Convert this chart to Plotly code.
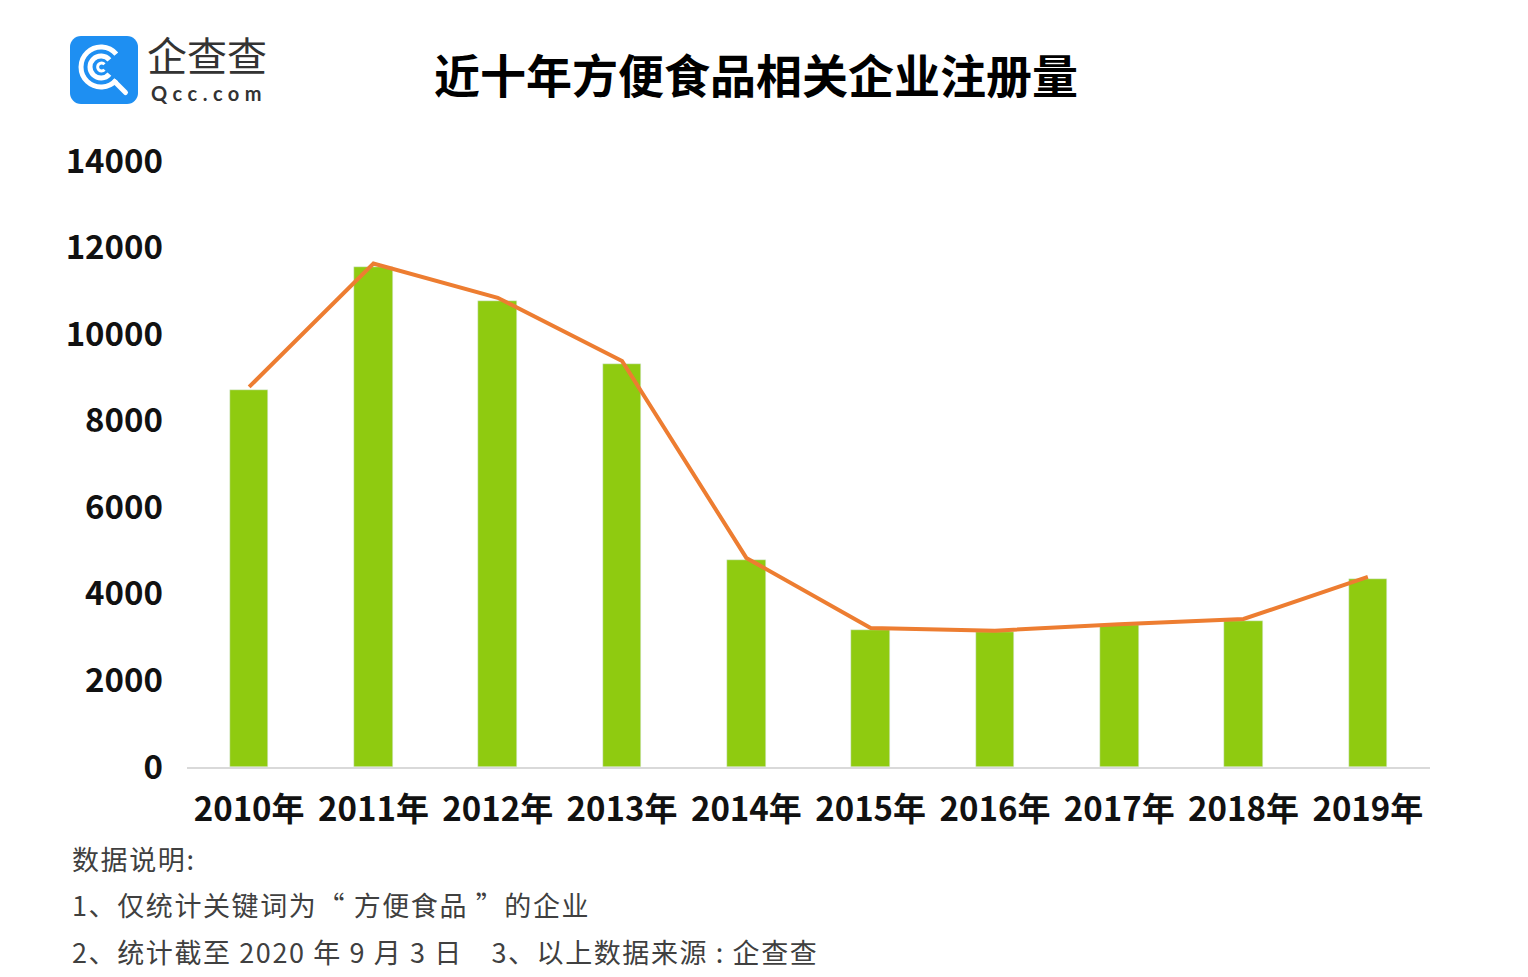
import base64
import plotly.graph_objects as go

# ---- data ----
years = ["2010年", "2011年", "2012年", "2013年", "2014年",
         "2015年", "2016年", "2017年", "2018年", "2019年"]
bar_values = [8710, 11560, 10770, 9310, 4780, 3170, 3120, 3280, 3380, 4340]
line_values = [8780, 11630, 10840, 9380, 4830, 3210, 3150, 3300, 3420, 4390]
y_ticks = [0, 2000, 4000, 6000, 8000, 10000, 12000, 14000]

title_text = "近十年方便食品相关企业注册量"
notes = ["数据说明:",
         "1、仅统计关键词为“ 方便食品 ”的企业",
         "2、统计截至 2020 年 9 月 3 日\u30003、以上数据来源 : 企查查"]

W, H = 1528, 977
FONT = "Noto Sans CJK SC"


def px(x):
    return x / W


def py(y):
    return 1 - y / H


fig = go.Figure()
fig.add_trace(go.Bar(x=years, y=bar_values, marker=dict(color="#8FCB10"),
                     width=0.31, showlegend=False, hoverinfo="x+y"))
fig.add_trace(go.Scatter(x=years, y=line_values, mode="lines",
                         line=dict(color="#ED7D31", width=4),
                         showlegend=False))

fig.update_layout(
    width=W, height=H,
    margin=dict(l=0, r=0, t=0, b=0),
    paper_bgcolor="white", plot_bgcolor="white",
    font=dict(family=FONT, color="#000000"),
    xaxis=dict(domain=[px(187), px(1430)], range=[-0.5, 9.5],
               showgrid=False, showline=True, linecolor="#D9D9D9", linewidth=1.5,
               ticks="", tickfont=dict(family=FONT, size=33, color="#111111", weight="bold"),
               ticklabelstandoff=13, automargin=False, fixedrange=True),
    yaxis=dict(domain=[py(767), py(161)], range=[0, 14000],
               tickvals=y_ticks, tickformat="d",
               showgrid=False, zeroline=False, showline=False, ticks="",
               tickfont=dict(family=FONT, size=33, color="#111111", weight="bold"),
               ticklabelstandoff=23, automargin=False, fixedrange=True),
    bargap=0.0,
)

# title
fig.add_annotation(text=title_text, x=px(756), y=py(73), xref="paper", yref="paper",
                   xanchor="center", yanchor="middle", showarrow=False,
                   font=dict(family=FONT, size=46, color="#000000", weight="bold"))

# footnotes
for i, t in enumerate(notes):
    fig.add_annotation(text='<span style="letter-spacing:1.6px">' + t + '</span>',
                       x=px(70), y=py(858 + i * 46.5), xref="paper", yref="paper",
                       xanchor="left", yanchor="middle", showarrow=False,
                       font=dict(family=FONT, size=27, color="#404040"))

# logo icon as inline svg
svg = (
    '<svg xmlns="http://www.w3.org/2000/svg" width="68" height="68" viewBox="0 0 68 68">'
    '<rect x="0" y="0" width="68" height="68" rx="11" ry="11" fill="#1E8FF2"/>'
    '<g fill="none" stroke="#FFFFFF" stroke-width="5" stroke-linecap="butt">'
    '<path d="M 46.3 18.1 A 20 20 0 1 0 46.3 43.9"/>'
    '<path d="M 39.4 23.9 A 11 11 0 1 0 39.4 38.1"/>'
    '</g>'
    '<path d="M 34.5 28.2 A 4 4 0 1 0 34.5 33.8" fill="none" stroke="#FFFFFF" stroke-width="3"/>'
    '<path d="M 45 46 L 55.5 56.5" stroke="#FFFFFF" stroke-width="5" stroke-linecap="round"/>'
    '</svg>'
)
src = "data:image/svg+xml;base64," + base64.b64encode(svg.encode()).decode()
fig.add_layout_image(dict(source=src, xref="paper", yref="paper",
                          x=px(70), y=py(36), sizex=px(68), sizey=68 / H,
                          xanchor="left", yanchor="top", sizing="stretch", layer="above"))

fig.add_annotation(text="企查查", x=px(145), y=py(54), xref="paper", yref="paper",
                   xanchor="left", yanchor="middle", showarrow=False,
                   font=dict(family=FONT, size=40, color="#333333"))
fig.add_annotation(text='<span style="letter-spacing:5.5px">Qcc.com</span>',
                   x=px(149), y=py(93), xref="paper", yref="paper",
                   xanchor="left", yanchor="middle", showarrow=False,
                   font=dict(family="Lato", size=20, color="#333333", weight="bold"))

fig.write_html("out.html", config={"displayModeBar": False},
               post_script="document.body.style.margin='0';")
